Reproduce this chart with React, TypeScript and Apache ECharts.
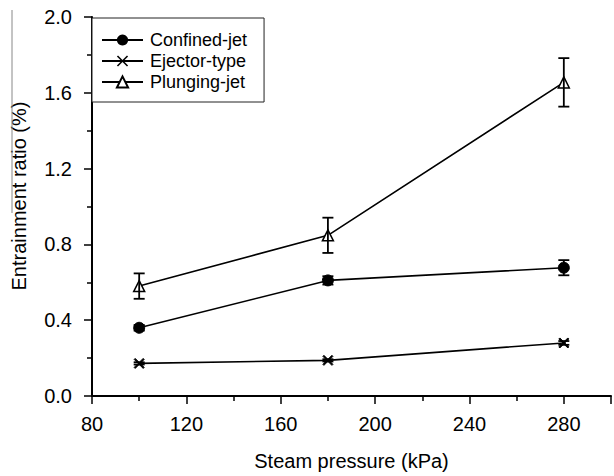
import React, { useEffect, useRef } from "react";
import * as echarts from "echarts";

const pressures = [100, 180, 280];
const confinedJet = [0.36, 0.61, 0.677];
const confinedErr = [0.015, 0.022, 0.04];
const ejectorType = [0.172, 0.188, 0.28];
const ejectorErr = [0.006, 0.006, 0.01];
const plungingJet = [0.58, 0.848, 1.655];
const plungingErr = [0.067, 0.093, 0.128];
const seriesNames = ["Confined-jet", "Ejector-type", "Plunging-jet"];

const xSymbol =
  "path://M0,1 L1,0 L5,4 L9,0 L10,1 L6,5 L10,9 L9,10 L5,6 L1,10 L0,9 L4,5 Z";

const FONT = "Liberation Sans, Arial, sans-serif";

export default function App() {
  const ref = useRef<HTMLDivElement>(null);
  useEffect(() => {
    if (!ref.current) return;
    const chart = echarts.init(ref.current, null, { renderer: "svg" });

    const pairs = (ys: number[]) => pressures.map((x, i) => [x, ys[i]]);
    const errData = (ys: number[], es: number[]) =>
      pressures.map((x, i) => [x, ys[i] - es[i], ys[i] + es[i]]);

    const errSeries = (name: string, ys: number[], es: number[]) => ({
      type: "custom",
      name: name + " error",
      z: 5,
      silent: true,
      renderItem: (params: any, api: any) => {
        const x = api.value(0);
        const lo = api.coord([x, api.value(1)]);
        const hi = api.coord([x, api.value(2)]);
        const hw = 5.5;
        const st = { stroke: "#000", lineWidth: 1.8 };
        return {
          type: "group",
          children: [
            { type: "line", shape: { x1: lo[0], y1: lo[1], x2: hi[0], y2: hi[1] }, style: st },
            { type: "line", shape: { x1: lo[0] - hw, y1: lo[1], x2: lo[0] + hw, y2: lo[1] }, style: st },
            { type: "line", shape: { x1: hi[0] - hw, y1: hi[1], x2: hi[0] + hw, y2: hi[1] }, style: st },
          ],
        };
      },
      data: errData(ys, es),
    });

    chart.setOption({
      animation: false,
      textStyle: { fontFamily: FONT },
      grid: { left: 92, right: -2, top: 17, bottom: 78 },
      legend: {
        data: seriesNames,
        orient: "vertical",
        left: 92,
        top: 18,
        itemWidth: 41,
        itemHeight: 14,
        itemGap: 3,
        padding: [13, 17, 11, 9],
        borderColor: "#222",
        borderWidth: 1,
        backgroundColor: "#fff",
        textStyle: { fontFamily: FONT, fontSize: 18, color: "#000", padding: [0, 0, 0, 2] },
      },
      xAxis: {
        type: "value",
        min: 80,
        max: 300,
        interval: 40,
        name: "Steam pressure (kPa)",
        nameLocation: "middle",
        nameGap: 55,
        nameTextStyle: { fontFamily: FONT, fontSize: 20, color: "#000" },
        axisLine: { lineStyle: { color: "#000", width: 2 } },
        axisTick: { show: true, length: 8, lineStyle: { color: "#000", width: 1.5 } },
        minorTick: { show: true, splitNumber: 2, length: 5, lineStyle: { color: "#000", width: 1.5 } },
        splitLine: { show: false },
        axisLabel: {
          fontFamily: FONT,
          fontSize: 20,
          color: "#000",
          margin: 18,
          formatter: (v: number) => (v >= 300 ? "" : String(v)),
        },
      },
      yAxis: {
        type: "value",
        min: 0,
        max: 2,
        interval: 0.4,
        axisLine: { show: true, lineStyle: { color: "#000", width: 2 } },
        axisTick: { show: true, length: 8, lineStyle: { color: "#000", width: 1.5 } },
        minorTick: { show: true, splitNumber: 2, length: 5, lineStyle: { color: "#000", width: 1.5 } },
        splitLine: { show: false },
        axisLabel: {
          fontFamily: FONT,
          fontSize: 20,
          color: "#000",
          margin: 20,
          formatter: (v: number) => v.toFixed(1),
        },
      },
      graphic: [
        {
          type: "text",
          x: 19,
          y: 196,
          rotation: Math.PI / 2,
          style: {
            text: "Entrainment ratio (%)",
            fontFamily: FONT,
            fontSize: 20,
            fill: "#000",
            textAlign: "center",
            textVerticalAlign: "middle",
          },
        },
        {
          type: "line",
          shape: { x1: 12, y1: 10, x2: 12, y2: 213 },
          style: { stroke: "#888", lineWidth: 1 },
        },
      ],
      series: [
        {
          type: "line",
          name: seriesNames[0],
          data: pairs(confinedJet),
          symbol: "circle",
          symbolSize: 11,
          z: 3,
          lineStyle: { color: "#000", width: 1.6 },
          itemStyle: { color: "#000", borderColor: "#000" },
        },
        {
          type: "line",
          name: seriesNames[1],
          data: pairs(ejectorType),
          symbol: xSymbol,
          symbolSize: 10,
          z: 3,
          lineStyle: { color: "#000", width: 1.6 },
          itemStyle: { color: "#000", borderColor: "#000" },
        },
        {
          type: "line",
          name: seriesNames[2],
          data: pairs(plungingJet),
          symbol: "triangle",
          symbolSize: 11,
          z: 3,
          lineStyle: { color: "#000", width: 1.6 },
          itemStyle: { color: "#fff", borderColor: "#000", borderWidth: 1.5 },
        },
        errSeries(seriesNames[0], confinedJet, confinedErr),
        errSeries(seriesNames[1], ejectorType, ejectorErr),
        errSeries(seriesNames[2], plungingJet, plungingErr),
      ],
    });
    return () => chart.dispose();
  }, []);
  return (
    <div
      ref={ref}
      style={{ position: "fixed", left: 0, top: 0, width: 614, height: 476, background: "#fff" }}
    />
  );
}
